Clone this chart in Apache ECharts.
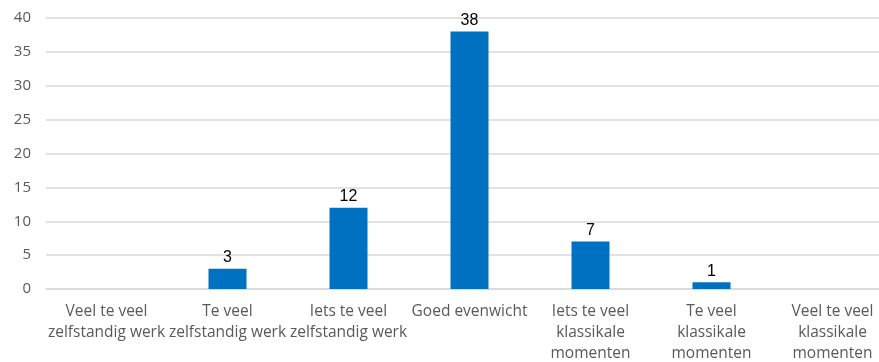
<!DOCTYPE html>
<html>
<head>
<meta charset="utf-8">
<script src="https://cdn.jsdelivr.net/npm/echarts@6/dist/echarts.min.js"></script>
<style>
  html, body { margin: 0; padding: 0; background: #fff; }
  #chart { width: 879px; height: 362px; }
</style>
</head>
<body>
<div id="chart"></div>
<script>
var categories = [
    "Veel te veel\nzelfstandig werk",
    "Te veel\nzelfstandig werk",
    "Iets te veel\nzelfstandig werk",
    "Goed evenwicht",
    "Iets te veel\nklassikale\nmomenten",
    "Te veel\nklassikale\nmomenten",
    "Veel te veel\nklassikale\nmomenten"
];
var counts = [0, 3, 12, 38, 7, 1, 0];
var yTicks = [0, 5, 10, 15, 20, 25, 30, 35, 40];

var chart = echarts.init(document.getElementById("chart"));
var option = {
    animation: false,
    grid: {
        left: 46,
        top: 18,
        width: 847,
        height: 271,
        containLabel: false,
        outerBoundsMode: "none"
    },
    xAxis: {
        type: "category",
        data: categories,
        axisLine: { show: true, lineStyle: { color: "#d9d9d9", width: 1.5 } },
        axisTick: { show: false },
        axisLabel: {
            interval: 0,
            color: "#595959",
            fontFamily: "Open Sans",
            fontSize: 15.5,
            lineHeight: 21,
            margin: 12,
            overflow: "none"
        }
    },
    yAxis: {
        type: "value",
        min: yTicks[0],
        max: yTicks[yTicks.length - 1],
        interval: 5,
        axisLine: { show: false },
        axisTick: { show: false },
        splitLine: { lineStyle: { color: "#d9d9d9", width: 1.5 } },
        axisLabel: {
            color: "#595959",
            fontFamily: "Open Sans",
            fontSize: 15,
            margin: 15
        }
    },
    series: [{
        type: "bar",
        data: counts,
        barWidth: 38,
        itemStyle: { color: "#0070c0" },
        label: {
            show: true,
            position: "top",
            color: "#000",
            fontFamily: "Liberation Sans",
            fontSize: 16,
            distance: 3,
            formatter: function (p) {
                return p.value > 0 ? p.value : "";
            }
        }
    }]
};
chart.setOption(option);
</script>
</body>
</html>
